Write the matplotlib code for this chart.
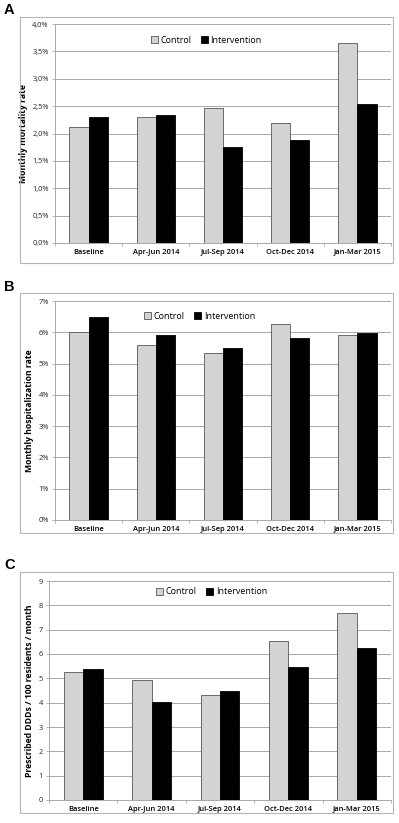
import matplotlib.pyplot as plt
import numpy as np
from matplotlib.patches import Rectangle
from matplotlib.ticker import FixedLocator

plt.rcParams["font.family"] = ["Open Sans", "DejaVu Sans"]

categories = ["Baseline", "Apr-Jun 2014", "Jul-Sep 2014", "Oct-Dec 2014", "Jan-Mar 2015"]

mortality_control = [2.11, 2.31, 2.46, 2.20, 3.65]
mortality_intervention = [2.30, 2.34, 1.75, 1.89, 2.53]

hosp_control = [6.02, 5.58, 5.35, 6.27, 5.92]
hosp_intervention = [6.50, 5.92, 5.50, 5.82, 5.98]

ddd_control = [5.25, 4.95, 4.32, 6.55, 7.68]
ddd_intervention = [5.38, 4.02, 4.48, 5.45, 6.25]

mortality_ticks = [0.0, 0.5, 1.0, 1.5, 2.0, 2.5, 3.0, 3.5, 4.0]
mortality_labels = ["0,0%", "0,5%", "1,0%", "1,5%", "2,0%", "2,5%", "3,0%", "3,5%", "4,0%"]
hosp_ticks = [0, 1, 2, 3, 4, 5, 6, 7]
hosp_labels = ["0%", "1%", "2%", "3%", "4%", "5%", "6%", "7%"]
ddd_ticks = [0, 1, 2, 3, 4, 5, 6, 7, 8, 9]
ddd_labels = ["0", "1", "2", "3", "4", "5", "6", "7", "8", "9"]

W, H = 399, 823
fig = plt.figure(figsize=(W / 100, H / 100), dpi=100)

GRID = "#a8a8a8"
LIGHT = "#d3d3d3"


def px_axes(x0, x1, ytop, ybot):
    return fig.add_axes([x0 / W, 1 - ybot / H, (x1 - x0) / W, (ybot - ytop) / H])


def panel(ax, control, intervention, ticks, labels, ylabel, leg_x, leg_y):
    x = np.arange(len(categories))
    bw = 0.285
    ax.bar(x - bw / 2, control, bw, color=LIGHT, edgecolor="#555555", lw=0.6,
           label="Control", zorder=3)
    ax.bar(x + bw / 2, intervention, bw, color="black", edgecolor="black", lw=0.6,
           label="Intervention", zorder=3)
    ax.set_xlim(-0.5, len(categories) - 0.5)
    ax.set_ylim(ticks[0], ticks[-1])
    ax.set_yticks(ticks)
    ax.set_yticklabels(labels, fontsize=5.3, color="#222222")
    ax.set_xticks(x)
    ax.set_xticklabels(categories, fontsize=5.4, fontweight="semibold")
    ax.xaxis.set_minor_locator(FixedLocator(np.arange(-0.5, len(categories), 1.0)))
    ax.tick_params(axis="x", which="major", length=0, pad=4)
    ax.tick_params(axis="x", which="minor", length=2.5, color=GRID, width=0.6)
    ax.tick_params(axis="y", length=2.5, color=GRID, width=0.6, pad=2)
    ax.grid(axis="y", color=GRID, lw=0.7, zorder=0)
    for side in ["top", "right"]:
        ax.spines[side].set_visible(False)
    ax.spines["left"].set_color(GRID)
    ax.spines["bottom"].set_color(GRID)
    ax.spines["left"].set_linewidth(0.7)
    ax.spines["bottom"].set_linewidth(0.7)
    ax.set_ylabel(ylabel, fontsize=6.2, fontweight="bold", labelpad=3)
    ax.legend(loc="center", bbox_to_anchor=(leg_x, leg_y), ncol=2, frameon=False,
              fontsize=6.5, handlelength=0.8, handleheight=0.8, handletextpad=0.3,
              columnspacing=1.0, borderaxespad=0)


# chart borders
for (x0, x1, y0, y1) in [(20, 393, 17, 263), (20, 393, 293, 533), (20, 393, 572, 813)]:
    fig.patches.append(Rectangle((x0 / W, 1 - y1 / H), (x1 - x0) / W, (y1 - y0) / H,
                                 transform=fig.transFigure, fill=False,
                                 edgecolor="#b5b5b5", lw=0.8))

ax_a = px_axes(55, 391, 24, 243)
panel(ax_a, mortality_control, mortality_intervention, mortality_ticks, mortality_labels,
      "Monthly mortality rate", 0.45, 0.925)

ax_b = px_axes(55, 391, 301, 520)
panel(ax_b, hosp_control, hosp_intervention, hosp_ticks, hosp_labels,
      "Monthly hospitalization rate", 0.43, 0.93)

ax_c = px_axes(49, 391, 581, 800)
panel(ax_c, ddd_control, ddd_intervention, ddd_ticks, ddd_labels,
      "Prescribed DDDs / 100 residents / month", 0.475, 0.95)

for lbl, ypix in [("A", 10), ("B", 287), ("C", 565)]:
    fig.text(4 / W, 1 - ypix / H, lbl, fontsize=10.5, fontweight="bold", va="center",
             ha="left", family=["Liberation Sans", "DejaVu Sans"])

plt.savefig("out.png", dpi=100)
plt.close()
